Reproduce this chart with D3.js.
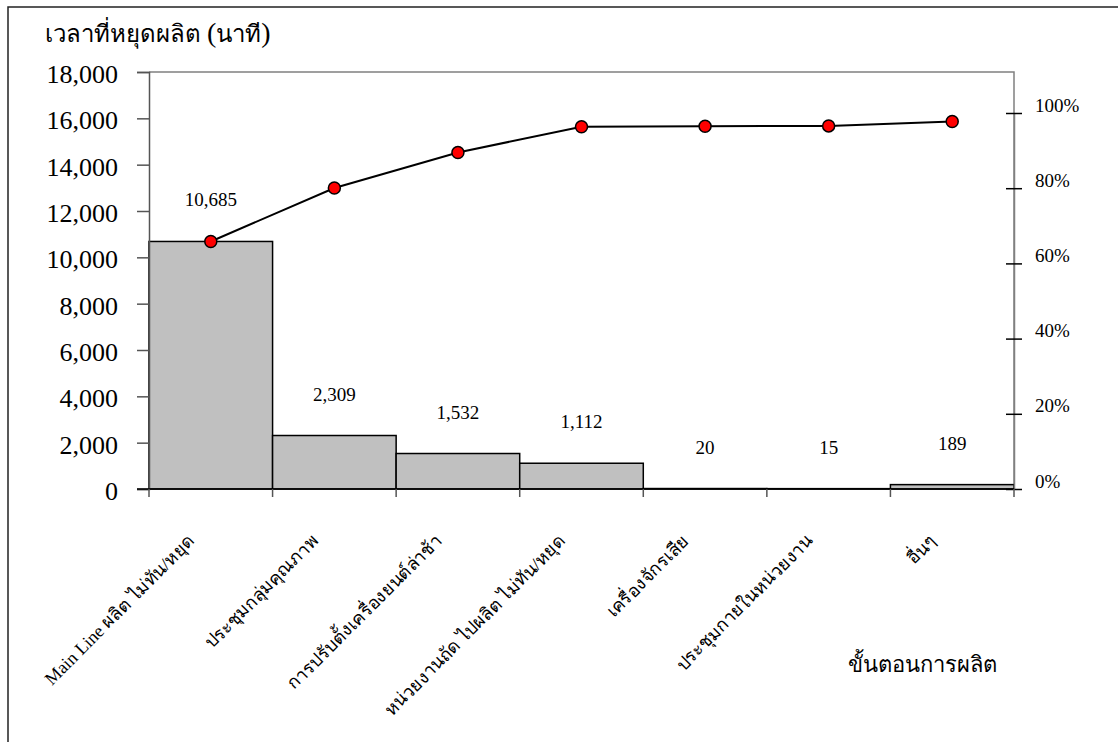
<!DOCTYPE html>
<html>
<head>
<meta charset="utf-8">
<script src="https://cdn.jsdelivr.net/npm/d3@7"></script>
<style>
  html, body { margin: 0; padding: 0; background: #fff; }
  svg { display: block; }
  text, tspan { font-family: "Liberation Serif", "DejaVu Serif", "Noto Sans", serif; fill: #000; }
</style>
</head>
<body>
<svg id="chart" width="1118" height="742"></svg>
<script>
// Downtime by production step (minutes)
const categories = [
  "Main Line ผลิต ไม่ทัน/หยุด",
  "ประชุมกลุ่มคุณภาพ",
  "การปรับตั้งเครื่องยนต์ล่าช้า",
  "หน่วยงานถัด ไปผลิต ไม่ทัน/หยุด",
  "เครื่องจักรเสีย",
  "ประชุมกายในหน่วยงาน",
  "อื่นๆ"
];
const downtime = [10685, 2309, 1532, 1112, 20, 15, 189];
const countTicks = [0, 2000, 4000, 6000, 8000, 10000, 12000, 14000, 16000, 18000];
const percentTicks = [0, 0.2, 0.4, 0.6, 0.8, 1.0];
const yTitleParts = ["เวลาที่หยุดผลิต ", "(", "นาที", ")"];
const xTitle = "ขั้นตอนการผลิต";

const svg = d3.select("#chart");
const plot = { left: 149, right: 1014, top: 72, bottom: 489 };

const x = d3.scaleBand().domain(categories).range([plot.left, plot.right]).padding(0);
const y = d3.scaleLinear().domain([0, 18000]).range([plot.bottom, plot.top]);
const yPct = d3.scaleLinear().domain([0, 1]).range([plot.bottom, 113]);

// outer frame
svg.append("rect")
  .attr("x", 8).attr("y", 7).attr("width", 1130).attr("height", 760)
  .attr("fill", "none").attr("stroke", "#222").attr("stroke-width", 1.5);

// plot frame: top and right edges
svg.append("path")
  .attr("d", `M${plot.left},${plot.top}H${plot.right}V${plot.bottom}`)
  .attr("fill", "none").attr("stroke", "#808080").attr("stroke-width", 1.5);

// bars
svg.append("g").selectAll("rect")
  .data(downtime)
  .join("rect")
  .attr("x", (d, i) => x(categories[i]))
  .attr("y", d => y(d))
  .attr("width", x.bandwidth())
  .attr("height", d => plot.bottom - y(d))
  .attr("fill", "#c0c0c0")
  .attr("stroke", "#000")
  .attr("stroke-width", 1.5);

// left axis
const yAxis = d3.axisLeft(y).tickValues(countTicks).tickSize(12).tickFormat(d3.format(","));
const gy = svg.append("g").attr("transform", `translate(${plot.left},0)`).call(yAxis);
gy.select(".domain").attr("stroke", "#555").attr("stroke-width", 1.5);
gy.selectAll(".tick line").attr("stroke", "#555").attr("stroke-width", 1.5);
gy.selectAll(".tick text")
  .attr("x", -31).attr("dy", "0.4em")
  .style("font-size", "26px");

// right percentage axis
const yAxisR = d3.axisRight(yPct).tickValues(percentTicks).tickSize(0).tickFormat(d3.format(".0%"));
const gr = svg.append("g").attr("transform", `translate(${plot.right},0)`).call(yAxisR);
gr.select(".domain").attr("stroke", "#808080").attr("stroke-width", 1.5);
gr.selectAll(".tick").append("line")
  .attr("x1", -8).attr("x2", 8)
  .attr("stroke", "#000").attr("stroke-width", 1.5);
gr.selectAll(".tick text")
  .attr("x", 21).attr("dy", "-0.1em")
  .style("font-size", "19px");

// bottom axis: ticks on category boundaries
const boundaries = categories.map(c => x(c)).concat([plot.right]);
svg.append("line")
  .attr("x1", plot.left - 12).attr("x2", plot.right)
  .attr("y1", plot.bottom).attr("y2", plot.bottom)
  .attr("stroke", "#000").attr("stroke-width", 1.5);
svg.append("g").selectAll("line")
  .data(boundaries)
  .join("line")
  .attr("x1", d => d).attr("x2", d => d)
  .attr("y1", plot.bottom).attr("y2", plot.bottom + 8)
  .attr("stroke", "#555").attr("stroke-width", 1.5);

// category labels, rotated
svg.append("g").selectAll("text")
  .data(categories)
  .join("text")
  .attr("transform", d => `translate(${x(d) + x.bandwidth() / 2 - 15},${plot.bottom + 53}) rotate(-45)`)
  .attr("text-anchor", "end")
  .style("font-size", "18px")
  .text(d => d);

// value labels above bars
svg.append("g").selectAll("text")
  .data(downtime)
  .join("text")
  .attr("x", (d, i) => x(categories[i]) + x.bandwidth() / 2)
  .attr("y", d => y(d) - 35)
  .attr("text-anchor", "middle")
  .style("font-size", "19px")
  .text(d => d3.format(",")(d));

// cumulative line
const cumulative = Array.from(d3.cumsum(downtime));
const pts = cumulative.map((v, i) => [x(categories[i]) + x.bandwidth() / 2, y(v)]);
svg.append("path")
  .attr("d", d3.line()(pts))
  .attr("fill", "none").attr("stroke", "#000").attr("stroke-width", 2);
svg.append("g").selectAll("circle")
  .data(pts)
  .join("circle")
  .attr("cx", d => d[0]).attr("cy", d => d[1]).attr("r", 6)
  .attr("fill", "#ff0000").attr("stroke", "#000").attr("stroke-width", 1.5);

// titles
svg.append("text")
  .attr("x", 45).attr("y", 42)
  .style("font-size", "24px")
  .selectAll("tspan")
  .data(yTitleParts)
  .join("tspan")
  .style("font-family", d => /[()]/.test(d) ? "'Liberation Serif', serif" : null)
  .style("font-size", d => /[()]/.test(d) ? "28px" : null)
  .text(d => d);
svg.append("text")
  .attr("x", 848).attr("y", 672)
  .style("font-size", "22px")
  .text(xTitle);
</script>
</body>
</html>
